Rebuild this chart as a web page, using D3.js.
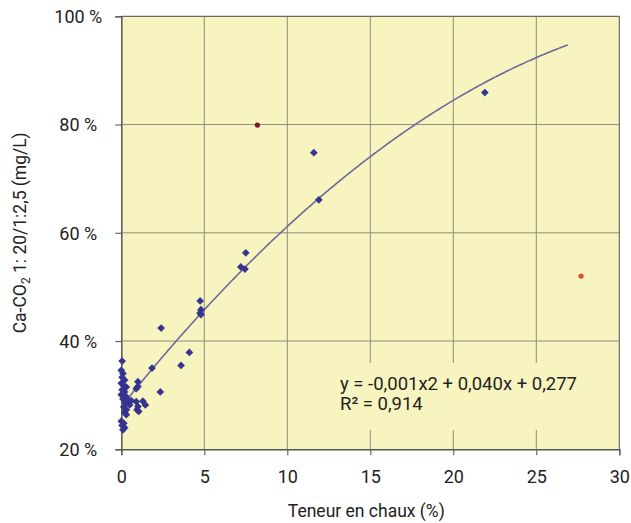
<!DOCTYPE html>
<html><head><meta charset="utf-8">
<script src="https://cdn.jsdelivr.net/npm/d3@7"></script>
<style>
html,body{margin:0;padding:0;background:#fff;}
text{font-family:"Roboto","Noto Sans",sans-serif;fill:#222;}
</style></head>
<body>
<svg id="c" width="631" height="523"></svg>
<script>
// ---- data ----
const xTicks = [0, 5, 10, 15, 20, 25, 30];
const yTicks = [20, 40, 60, 80, 100];
const yTickLabels = ["20 %", "40 %", "60 %", "80 %", "100 %"];
// blue diamonds: chaux (%) , Ca-CO2 (%)
const seriesX = [0.05,0.0,0.1,0.05,0.2,0.0,0.15,0.3,0.05,0.2,0.0,0.3,0.1,0.4,0.25,0.5,0.15,0.3,0.2,0.3,0.0,0.15,0.05,0.2,0.1,
  1.0,1.0,0.9,0.6,0.9,1.0,1.3,1.45,0.95,1.05,1.85,2.35,2.4,3.6,4.1,4.75,4.8,4.75,4.8,7.2,7.45,7.5,11.6,11.9,21.9];
const seriesY = [36.3,34.6,34.0,33.3,32.8,32.2,31.8,31.5,31.0,30.6,30.1,29.7,29.3,29.0,28.6,28.2,27.8,27.3,26.8,26.4,25.2,24.8,24.4,24.0,23.6,
  32.5,31.6,31.2,29.0,28.8,27.9,28.9,28.2,27.3,27.0,35.0,30.6,42.4,35.5,37.9,47.4,45.8,45.2,44.9,53.7,53.3,56.3,74.8,66.1,85.9];
// two outliers (circles)
const outlierX = [8.2, 27.7];
const outlierY = [79.9, 52.0];
const outlierColors = ["#7d1430", "#d4512b"];
// trend curve coefficients (a, b, c) in % and its x extent
const trendCoef = [-0.0500, 3.83, 27.87];
const trendRange = [0.25, 26.9];
const eqLines = ["y = -0,001x2 + 0,040x + 0,277", "R\u00B2 = 0,914"];
const xTitle = "Teneur en chaux (%)";

// ---- layout ----
const svg = d3.select("#c");
const L = 121.3, R = 619.3, T = 16.3, B = 449.3;
const x = d3.scaleLinear().domain([0, 30]).range([L, R]);
const y = d3.scaleLinear().domain([20, 100]).range([B, T]);

svg.append("rect").attr("x", L).attr("y", T).attr("width", R - L).attr("height", B - T)
  .attr("fill", "#f7f4bf");

// grid
const g = svg.append("g");
g.selectAll(".gx").data(xTicks.slice(1, -1)).join("line")
  .attr("x1", d => x(d)).attr("x2", d => x(d)).attr("y1", T).attr("y2", B)
  .attr("stroke", "#8e8c82").attr("stroke-width", 1);
g.selectAll(".gy").data(yTicks.slice(1, -1)).join("line")
  .attr("x1", L).attr("x2", R).attr("y1", d => y(d)).attr("y2", d => y(d))
  .attr("stroke", "#8e8c82").attr("stroke-width", 1);

// equation label background (covers grid)
svg.append("rect").attr("x", 335).attr("y", 363).attr("width", 255).attr("height", 67)
  .attr("fill", "#f7f4bf");

// border top/right
svg.append("path").attr("d", `M${L},${T}H${R}V${B}`).attr("fill", "none")
  .attr("stroke", "#6e6c66").attr("stroke-width", 1.2);

// axes
const xAxis = d3.axisBottom(x).tickValues(xTicks).tickSize(6).tickFormat(d3.format("d"));
const gx = svg.append("g").attr("transform", `translate(0,${B})`).call(xAxis);
gx.select(".domain").attr("stroke", "#555").attr("stroke-width", 1.5);
gx.selectAll(".tick line").attr("stroke", "#666").attr("stroke-width", 1.2);
gx.selectAll(".tick text").attr("font-size", 18).attr("dy", 0).attr("y", 34)
  .style("font-family", '"Roboto",sans-serif');

const yAxis = d3.axisLeft(y).tickValues(yTicks).tickSize(6)
  .tickFormat((d, i) => yTickLabels[i]);
const gy = svg.append("g").attr("transform", `translate(${L},0)`).call(yAxis);
gy.select(".domain").attr("stroke", "#555").attr("stroke-width", 1.5);
gy.selectAll(".tick line").attr("stroke", "#666").attr("stroke-width", 1.2);
gy.selectAll(".tick text").attr("font-size", 18).attr("x", -43).attr("text-anchor", "middle")
  .attr("dy", "0.35em").style("font-family", '"Roboto",sans-serif');
svg.selectAll(".tick text").style("fill", "#222");

// trend curve
const curvePts = d3.range(trendRange[0], trendRange[1] + 0.001, 0.1).concat([trendRange[1]]);
const f = t => trendCoef[0] * t * t + trendCoef[1] * t + trendCoef[2];
svg.append("path").datum(curvePts)
  .attr("d", d3.line().x(d => x(d)).y(d => y(f(d))))
  .attr("fill", "none").attr("stroke", "#6c6a98").attr("stroke-width", 1.6);

// diamonds
const sym = d3.symbol().type(d3.symbolSquare).size(30);
svg.append("g").selectAll("path").data(seriesX.map((v, i) => [v, seriesY[i]])).join("path")
  .attr("d", sym)
  .attr("transform", d => `translate(${x(d[0])},${y(d[1])}) rotate(45)`)
  .attr("fill", "#35358f");

// outliers
svg.append("g").selectAll("circle").data(outlierX.map((v, i) => [v, outlierY[i], outlierColors[i]])).join("circle")
  .attr("cx", d => x(d[0])).attr("cy", d => y(d[1])).attr("r", 2.6).attr("fill", d => d[2]);

// equation text
svg.append("text").attr("x", 340).attr("y", 390).attr("font-size", 18.5).text(eqLines[0]);
svg.append("text").attr("x", 340).attr("y", 410).attr("font-size", 18.5).text(eqLines[1]);

// axis titles
svg.append("text").attr("x", (L + R) / 2 - 4).attr("y", 517).attr("text-anchor", "middle")
  .attr("font-size", 17.5).text(xTitle);
const yt = svg.append("text").attr("transform", `translate(26,${(T + B) / 2}) rotate(-90)`)
  .attr("text-anchor", "middle").attr("font-size", 17.5);
yt.append("tspan").text("Ca-CO");
yt.append("tspan").attr("font-size", 12).attr("dy", 4).text("2");
yt.append("tspan").attr("dy", -4).text(" 1: 20/1:2,5 (mg/L)");
</script>
</body></html>
